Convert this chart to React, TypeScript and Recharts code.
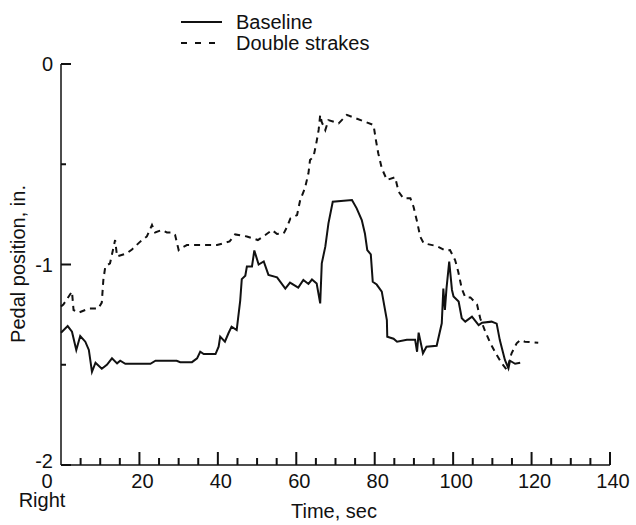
import { Line, LineChart, ReferenceLine, XAxis, YAxis } from "recharts";

// time (sec) and pedal position (in.)
const baselineTime = [
  0, 1.7, 2.8, 3.9, 4.9, 6.2, 7.1, 7.9, 8.8, 10.4, 11.7, 13.0, 14.3, 15.1, 16.4, 22.8, 24.1, 29.5, 30.4, 33.4,
  34.7, 35.5, 36.4, 39.4, 40.2, 40.6, 41.8, 42.7, 43.5, 44.8, 45.7, 46.1, 47.0, 47.4, 48.7, 49.3, 50.4, 51.7,
  52.9, 55.1, 57.2, 58.4, 60.5, 61.8, 63.1, 64.0, 65.2, 66.1, 66.5, 67.4, 68.2, 69.3, 74.2, 75.4, 76.7, 77.5,
  78.1, 79.0, 79.5, 80.5, 81.8, 83.1, 83.2, 84.8, 85.7, 88.2, 90.3, 90.8, 91.2, 92.3, 93.2, 95.8, 97.1, 97.5,
  97.9, 98.3, 99.0, 99.7, 100.1, 101.4, 102.2, 103.1, 104.8, 106.5, 107.4, 109.8, 111.1, 111.9, 113.2, 114.1,
  114.5, 115.8, 117.1,
];
const baselinePos = [
  -1.34, -1.307, -1.335, -1.426, -1.357, -1.385, -1.426, -1.535, -1.49, -1.52, -1.5, -1.468, -1.493, -1.48,
  -1.495, -1.495, -1.48, -1.48, -1.487, -1.487, -1.468, -1.435, -1.447, -1.447, -1.41, -1.36, -1.385, -1.343,
  -1.31, -1.327, -1.18, -1.073, -1.056, -1.01, -1.01, -0.93, -1.0, -0.985, -1.052, -1.064, -1.12, -1.09, -1.115,
  -1.077, -1.097, -1.075, -1.095, -1.194, -0.994, -0.911, -0.795, -0.687, -0.678, -0.72, -0.778, -0.845, -0.928,
  -0.95, -1.086, -1.1, -1.135, -1.277, -1.36, -1.37, -1.385, -1.375, -1.375, -1.435, -1.34, -1.443, -1.41,
  -1.405, -1.293, -1.12, -1.227, -1.12, -0.986, -1.127, -1.16, -1.185, -1.268, -1.285, -1.26, -1.302, -1.29,
  -1.285, -1.295, -1.377, -1.476, -1.518, -1.48, -1.495, -1.49,
];

const strakesTime = [
  0, 0.6, 2.8, 3.2, 4.5, 7.1, 9.5, 10.4, 10.8, 11.3, 12.5, 13.8, 14.3, 16.8, 18.1, 20.2, 21.9, 23.2, 24.0, 25.7,
  27.0, 28.3, 29.1, 30.0, 30.4, 32.1, 39.8, 43.0, 44.4, 47.4, 50.2, 52.1, 53.8, 55.1, 56.8, 57.7, 58.5, 60.2,
  61.0, 62.2, 63.1, 63.5, 64.4, 65.1, 65.7, 66.1, 66.5, 67.4, 68.2, 70.8, 72.9, 75.1, 77.5, 79.7, 80.3, 80.9,
  81.8, 83.1, 85.2, 86.1, 87.3, 89.1, 89.9, 90.8, 91.6, 92.5, 95.8, 98.0, 99.2, 100.5, 101.3, 102.2, 103.1,
  104.4, 106.1, 106.9, 108.2, 109.5, 111.1, 112.4, 113.7, 114.9, 116.2, 117.1, 118.3, 121.7,
];
const strakesPos = [
  -1.21, -1.2, -1.135, -1.227, -1.24, -1.22, -1.22, -1.19, -1.077, -1.01, -0.994, -0.878, -0.96, -0.944, -0.925,
  -0.886, -0.86, -0.803, -0.84, -0.828, -0.84, -0.84, -0.853, -0.928, -0.92, -0.903, -0.903, -0.885, -0.85,
  -0.86, -0.878, -0.853, -0.828, -0.848, -0.845, -0.81, -0.77, -0.753, -0.678, -0.62, -0.545, -0.479, -0.462,
  -0.396, -0.329, -0.254, -0.29, -0.33, -0.28, -0.296, -0.254, -0.27, -0.288, -0.304, -0.379, -0.445, -0.52,
  -0.578, -0.565, -0.637, -0.67, -0.67, -0.712, -0.786, -0.861, -0.894, -0.908, -0.93, -0.928, -0.978, -1.036,
  -1.12, -1.164, -1.164, -1.2, -1.268, -1.335, -1.393, -1.451, -1.493, -1.526, -1.443, -1.393, -1.377, -1.385,
  -1.39,
];

const xTicks = [0, 5, 10, 15, 20, 25, 30, 35, 40, 45, 50, 55, 60, 65, 70, 75, 80, 85, 90, 95, 100, 105, 110, 115, 120, 125, 130, 135, 140];
const yTicks = [-2, -1.5, -1, -0.5, 0];

const FONT = '"Liberation Sans", Arial, Helvetica, sans-serif';
const INK = "#111";
const X_MIN = 0;
const Y_MIN = -2;
// tick lengths in axis units (plot is 549 px for 140 s, 401 px for 2 in.)
const SEC_PER_PX = 140 / 549;
const IN_PER_PX = 2 / 401;

const baseline = baselineTime.map((t, i) => ({ t, pos: baselinePos[i] }));
const strakes = strakesTime.map((t, i) => ({ t, pos: strakesPos[i] }));

function XTick(props: any) {
  const { x, y, payload } = props;
  const v = payload.value;
  if (v % 20 !== 0) return <g />;
  return (
    <g>
      <text x={v === 0 ? x - 14 : x + 3} y={y + 23} textAnchor="middle" fontFamily={FONT} fontSize={20} fill={INK}>
        {v}
      </text>
      {v === 0 && (
        <text x={x - 19} y={y + 42} textAnchor="middle" fontFamily={FONT} fontSize={20} fill={INK}>
          Right
        </text>
      )}
    </g>
  );
}

function YTick(props: any) {
  const { x, y, payload } = props;
  const v = payload.value;
  if (!Number.isInteger(v)) return <g />;
  return (
    <text x={x - 8} y={y + 7 - (v === -2 ? 4 : 0)} textAnchor="end" fontFamily={FONT} fontSize={20} fill={INK}>
      {v}
    </text>
  );
}

function LegendRow({ dashed, text, top }: { dashed?: boolean; text: string; top: number }) {
  return (
    <div style={{ position: "absolute", left: 181, top, height: 24, display: "flex", alignItems: "center" }}>
      <svg width={55} height={24}>
        <line x1={0} y1={12} x2={dashed ? 36 : 41} y2={12} stroke={INK} strokeWidth={2} strokeDasharray={dashed ? "6 8" : undefined} />
      </svg>
      <span style={{ fontFamily: FONT, fontSize: 20, color: INK, whiteSpace: "nowrap" }}>{text}</span>
    </div>
  );
}

export default function App() {
  return (
    <div style={{ position: "absolute", left: 0, top: 0, width: 636, height: 525, background: "#fff" }}>
      <LineChart width={636} height={525} margin={{ top: 64, right: 26, bottom: 0, left: 0 }}>
        <XAxis
          dataKey="t"
          type="number"
          domain={[0, 140]}
          ticks={xTicks}
          interval={0}
          height={60}
          tickSize={0}
          tickMargin={0}
          tickLine={false}
          axisLine={{ stroke: INK, strokeWidth: 1.5 }}
          tick={XTick}
        />
        <YAxis
          type="number"
          domain={[-2, 0]}
          ticks={yTicks}
          interval={0}
          width={61}
          tickSize={0}
          tickMargin={0}
          tickLine={false}
          axisLine={{ stroke: INK, strokeWidth: 1.5 }}
          tick={YTick}
        />
        {/* inward tick marks, one per axis tick */}
        {xTicks
          .filter((v) => v !== 0)
          .map((v) => (
            <ReferenceLine
              key={`xt${v}`}
              segment={[
                { x: v, y: Y_MIN },
                { x: v, y: Y_MIN + (v % 20 === 0 ? 13 : 7) * IN_PER_PX },
              ]}
              stroke={INK}
              strokeWidth={2}
              ifOverflow="visible"
            />
          ))}
        {yTicks.map((v) => (
          <ReferenceLine
            key={`yt${v}`}
            segment={[
              { x: X_MIN, y: v },
              { x: X_MIN + (Number.isInteger(v) ? 10 : 5) * SEC_PER_PX, y: v },
            ]}
            stroke={INK}
            strokeWidth={2}
            ifOverflow="visible"
          />
        ))}
        <Line data={baseline} dataKey="pos" type="linear" dot={false} stroke={INK} strokeWidth={2} isAnimationActive={false} />
        <Line
          data={strakes}
          dataKey="pos"
          type="linear"
          dot={false}
          stroke={INK}
          strokeWidth={2}
          strokeDasharray="6 5"
          isAnimationActive={false}
        />
      </LineChart>
      <svg width={636} height={525} style={{ position: "absolute", left: 0, top: 0, pointerEvents: "none" }}>
        <text x={334} y={518} textAnchor="middle" fontFamily={FONT} fontSize={20} fill={INK}>
          Time, sec
        </text>
        <text transform="translate(25, 264) rotate(-90)" textAnchor="middle" fontFamily={FONT} fontSize={20} fill={INK}>
          Pedal position, in.
        </text>
      </svg>
      <LegendRow text="Baseline" top={10} />
      <LegendRow dashed text="Double strakes" top={31} />
    </div>
  );
}
